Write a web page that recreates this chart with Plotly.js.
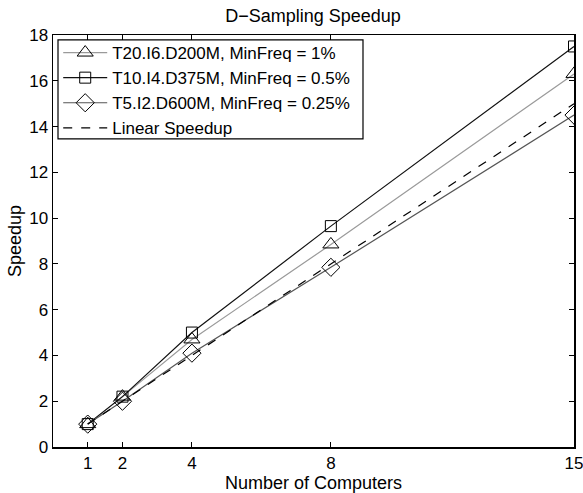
<!DOCTYPE html>
<html>
<head>
<meta charset="utf-8">
<script src="https://cdn.plot.ly/plotly-3.0.1.min.js"></script>
<style>html,body{margin:0;padding:0;background:#fff;}#chart{width:583px;height:493px;}</style>
</head>
<body>
<div id="chart"></div>
<script>
const computers = [1, 2, 4, 8, 15];
const t20Speedup = [1, 2.2, 4.7, 8.85, 16.3];
const t10Speedup = [1, 2.2, 5.0, 9.65, 17.5];
const t5Speedup = [1, 2.0, 4.1, 7.85, 14.5];
const linearSpeedup = [1, 2, 4, 8, 15];
const seriesNames = ["T20.I6.D200M, MinFreq = 1%", "T10.I4.D375M, MinFreq = 0.5%", "T5.I2.D600M, MinFreq = 0.25%", "Linear Speedup"];
const yTicks = [0, 2, 4, 6, 8, 10, 12, 14, 16, 18];

const font = "Liberation Sans, Arial, Helvetica, sans-serif";
const fs = 17;
const traces = [
  {x: computers, y: t20Speedup, name: seriesNames[0], mode: "lines+markers",
   line: {color: "#9a9a9a", width: 1.2},
   marker: {symbol: "triangle-up-open", size: 14, color: "#000", line: {color: "#000", width: 1}}},
  {x: computers, y: t10Speedup, name: seriesNames[1], mode: "lines+markers",
   line: {color: "#111", width: 1.2},
   marker: {symbol: "square-open", size: 11, color: "#000", line: {color: "#000", width: 1}}},
  {x: computers, y: t5Speedup, name: seriesNames[2], mode: "lines+markers",
   line: {color: "#555", width: 1.2},
   marker: {symbol: "diamond-open", size: 14, color: "#000", line: {color: "#000", width: 1}}},
  {x: computers, y: linearSpeedup, name: seriesNames[3], mode: "lines",
   line: {color: "#000", width: 1.2, dash: "dash"}}
];

const layout = {
  width: 583, height: 493,
  margin: {l: 53, r: 9, t: 35, b: 46},
  paper_bgcolor: "#fff", plot_bgcolor: "#fff",
  font: {family: font, size: fs, color: "#000"},
  title: {text: "D\u2212Sampling Speedup", font: {family: font, size: 18, color: "#000"}, x: 0.537, xanchor: "center", y: 0.968, yanchor: "middle"},
  xaxis: {range: [0, 15], tickvals: computers, ticktext: computers.map(String),
    ticks: "inside", ticklen: 5, tickcolor: "#000", showline: true, linecolor: "#000", linewidth: 1.5,
    mirror: "allticks", showgrid: false, zeroline: false, ticklabeloverflow: "allow",
    tickfont: {family: font, size: fs}, title: {text: "Number of Computers", font: {family: font, size: 18}, standoff: 0}},
  yaxis: {range: [0, 18], tickvals: yTicks, ticks: "inside", ticklen: 5, tickcolor: "#000",
    showline: true, linecolor: "#000", linewidth: 1.5, mirror: "allticks", showgrid: false, zeroline: false,
    ticklabeloverflow: "allow",
    tickfont: {family: font, size: fs}, title: {text: "Speedup", font: {family: font, size: 18}, standoff: 3}},
  legend: {x: 0.01, y: 1.0, xanchor: "left", yanchor: "top", bgcolor: "rgba(0,0,0,0)",
    borderwidth: 0, font: {family: font, size: fs}, tracegroupgap: 0, itemwidth: 44},
  shapes: [{type: "rect", xref: "paper", yref: "paper", x0: 0.0096, x1: 0.595, y0: 0.748, y1: 0.988,
    line: {color: "#000", width: 1.2}, fillcolor: "#fff", layer: "below"}],
  showlegend: true
};
Plotly.newPlot("chart", traces, layout, {displayModeBar: false, staticPlot: true});
</script>
</body>
</html>
